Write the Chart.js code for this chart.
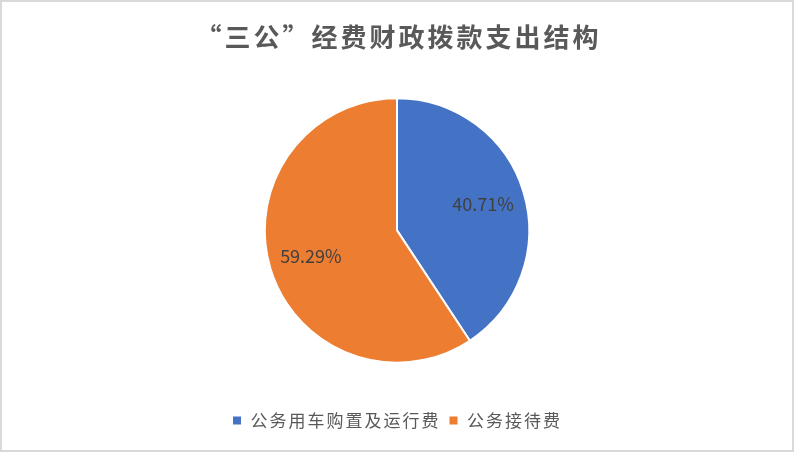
<!DOCTYPE html>
<html>
<head>
<meta charset="utf-8">
<script src="https://cdn.jsdelivr.net/npm/chart.js@4.4.0/dist/chart.umd.min.js"></script>
<style>
  html, body { margin: 0; padding: 0; background: #fff; }
  canvas { display: block; }
</style>
</head>
<body>
<canvas id="pie" width="794" height="452"></canvas>
<script>
// chart data
var categories = ['公务用车购置及运行费', '公务接待费'];
var shares = [40.71, 59.29];
var colors = ['#4472C4', '#ED7D31'];
var titleText = '“三公”经费财政拨款支出结构';

var FONT = '"Noto Sans CJK SC", "Noto Sans", sans-serif';

// white background + thin frame, and wider letter spacing for the legend
var framePlugin = {
    id: 'frame',
    beforeUpdate: function(chart) {
        chart.ctx.letterSpacing = '2px';
    },
    beforeDraw: function(chart) {
        var ctx = chart.ctx;
        ctx.letterSpacing = '2px';
        ctx.save();
        ctx.fillStyle = '#fff';
        ctx.fillRect(0, 0, chart.width, chart.height);
        ctx.strokeStyle = '#D9D9D9';
        ctx.lineWidth = 2;
        ctx.strokeRect(1, 1, chart.width - 2, chart.height - 2);
        ctx.restore();
    }
};

// percent labels inside the slices + spaced title
var sliceLabels = {
    id: 'sliceLabels',
    afterDraw: function(chart) {
        var ctx = chart.ctx;
        var meta = chart.getDatasetMeta(0);
        ctx.save();
        ctx.letterSpacing = '0px';
        ctx.font = '18px ' + FONT;
        ctx.fillStyle = '#404040';
        ctx.textAlign = 'center';
        ctx.textBaseline = 'middle';
        meta.data.forEach(function(arc, i) {
            var p = arc.getProps(['x', 'y', 'startAngle', 'endAngle', 'outerRadius'], true);
            var mid = (p.startAngle + p.endAngle) / 2;
            var r = p.outerRadius * 0.68;
            ctx.fillText(shares[i].toFixed(2) + '%', p.x + Math.cos(mid) * r, p.y + Math.sin(mid) * r);
        });

        // title text (the built-in title is kept only as a spacer)
        var t = chart.titleBlock;
        ctx.letterSpacing = '3px';
        ctx.font = 'bold 26px ' + FONT;
        ctx.fillStyle = '#595959';
        ctx.fillText(titleText, chart.width / 2 + 1.5, t.top + 22 + 15.6);
        ctx.restore();
    }
};

new Chart(document.getElementById('pie'), {
    type: 'pie',
    data: {
        labels: categories,
        datasets: [{
            data: shares,
            backgroundColor: colors,
            borderColor: '#fff',
            borderWidth: 2
        }]
    },
    options: {
        responsive: false,
        animation: false,
        layout: { padding: { top: 0, bottom: 13, left: 0, right: 0 } },
        plugins: {
            title: {
                display: true,
                text: titleText,
                color: 'rgba(0,0,0,0)',
                font: { family: FONT, size: 26, weight: '500' },
                padding: { top: 20, bottom: 46 }
            },
            legend: {
                position: 'bottom',
                title: { display: true, text: ' ', font: { size: 12 }, padding: 13 },
                labels: {
                    boxWidth: 10,
                    boxHeight: 10,
                    padding: 8,
                    color: '#595959',
                    font: { family: FONT, size: 17 }
                }
            },
            tooltip: { enabled: false }
        }
    },
    plugins: [framePlugin, sliceLabels]
});
</script>
</body>
</html>
